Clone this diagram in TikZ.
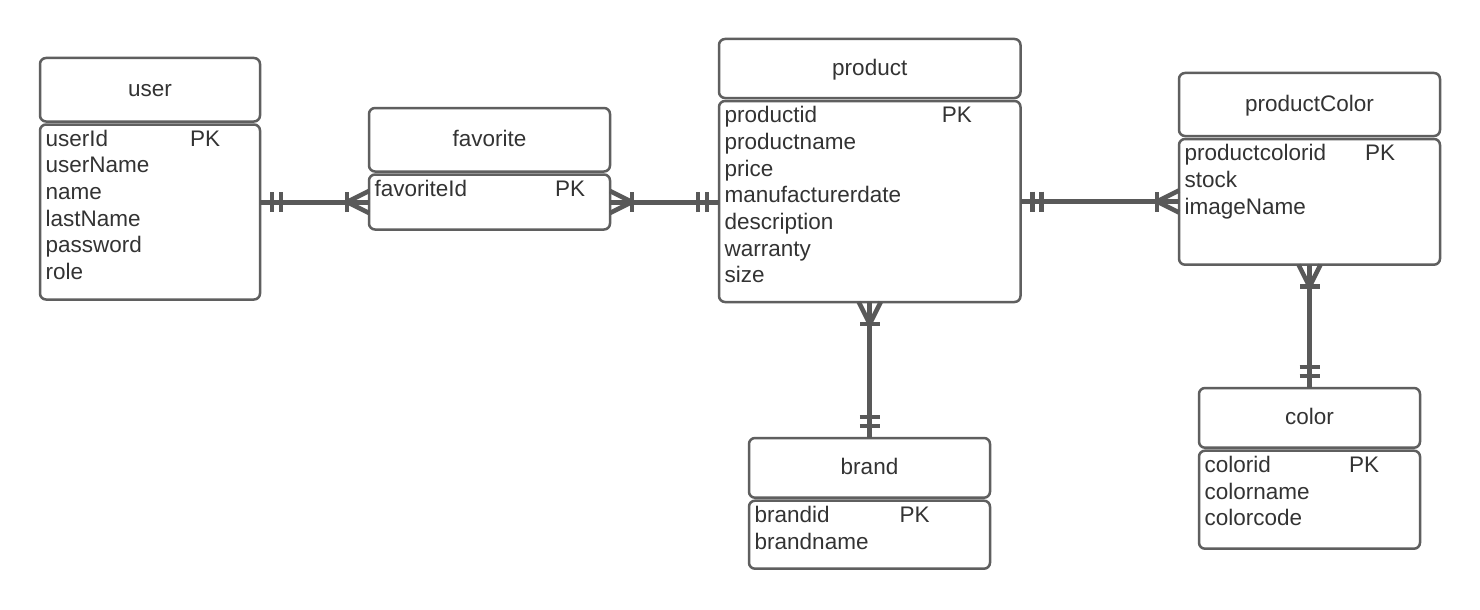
\documentclass[tikz,border=0pt]{standalone}
\usepackage{fontspec}
\setmainfont{Liberation Sans}
\usetikzlibrary{calc}
\definecolor{boxc}{RGB}{95,95,95}
\definecolor{connc}{RGB}{89,89,89}
\definecolor{txtc}{RGB}{51,51,51}
\tikzset{
  ebox/.style={draw=boxc, line width=2.5pt, rounded corners=6pt, inner sep=0pt, outer sep=0pt, fill=white},
  etitle/.style={text=txtc, font=\fontsize{22.5}{26}\selectfont, inner sep=0pt},
  efield/.style={text=txtc, font=\fontsize{22.5}{26}\selectfont, inner sep=0pt},
  conn/.style={draw=connc, line width=5pt},
  erbar/.style={draw=connc, line width=4.5pt},
}
\newcommand\entity[9]{%
  \node[ebox, minimum width=#4, minimum height=#5, anchor=north west] (#1h) at (#2,#3) {};
  \node[ebox, minimum width=#4, minimum height=#6, anchor=north west] (#1b) at ($(#1h.south west)+(0,3)$) {};
  \node[etitle, anchor=base] (#1t) at ($(#1h.center)+(0,6.5)$) {#7};
  \node[efield, anchor=base west] (#1pk) at ($(#1b.north west)+(#8,21.8)$) {PK};
  \foreach \f [count=\i from 0] in {#9}
    \node[efield, anchor=base west] (#1f\i) at ($(#1b.north west)+(5.5,21.8+26.67*\i)$) {\f};
}
\newcommand\erOne[2]{%
  \foreach \d in {12,21}{%
    \coordinate (erP) at ($(#1)!\d pt!(#2)$);
    \draw[erbar] ($(erP)!10pt!90:(#2)$) -- ($(erP)!10pt!-90:(#2)$);
  }%
}
\newcommand\erMany[2]{%
  \coordinate (erQ) at ($(#1)!22pt!(#2)$);
  \draw[erbar] ($(erQ)!10pt!90:(#2)$) -- ($(erQ)!10pt!-90:(#2)$);
  \draw[erbar, line join=miter] ($(#1)!11pt!90:(#2)$) -- (erQ) -- ($(#1)!11pt!-90:(#2)$);
}
\begin{document}
\begin{tikzpicture}[x=1pt, y=-1pt]
\useasboundingbox[fill=white] (0,0) rectangle (1480,610);

\entity{u}{40}{58}{220}{63.5}{175}{user}{150}{userId,userName,name,lastName,password,role}
\entity{f}{369}{108}{241}{63.5}{55}{favorite}{186}{favoriteId}
\entity{p}{719}{39}{301.5}{59}{201}{product}{222.7}{productid,productname,price,manufacturerdate,description,warranty,size}
\entity{pc}{1179}{73}{261}{63}{125.7}{productColor}{186}{productcolorid,stock,imageName}
\entity{br}{749}{438}{241}{59.7}{68}{brand}{150.3}{brandid,brandname}
\entity{c}{1199}{388}{221}{59.7}{98}{color}{150}{colorid,colorname,colorcode}

% user -- favorite
\coordinate (ufA) at (ub.east |- fb.west);
\coordinate (ufB) at (fb.west);
\draw[conn] (ufA) -- (ufB);
\erOne{ufA}{ufB}
\erMany{ufB}{ufA}

% favorite -- product
\coordinate (fpA) at (fb.east);
\coordinate (fpB) at (pb.west |- fb.east);
\draw[conn] (fpA) -- (fpB);
\erMany{fpA}{fpB}
\erOne{fpB}{fpA}

% product -- productColor
\coordinate (ppA) at (pb.east);
\coordinate (ppB) at (pcb.west |- pb.east);
\draw[conn] (ppA) -- (ppB);
\erOne{ppA}{ppB}
\erMany{ppB}{ppA}

% product -- brand
\coordinate (pbA) at (pb.south);
\coordinate (pbB) at (pb.south |- brh.north);
\draw[conn] (pbA) -- (pbB);
\erMany{pbA}{pbB}
\erOne{pbB}{pbA}

% productColor -- color
\coordinate (pcA) at (pcb.south);
\coordinate (pcB) at (pcb.south |- ch.north);
\draw[conn] (pcA) -- (pcB);
\erMany{pcA}{pcB}
\erOne{pcB}{pcA}
\end{tikzpicture}
\end{document}
